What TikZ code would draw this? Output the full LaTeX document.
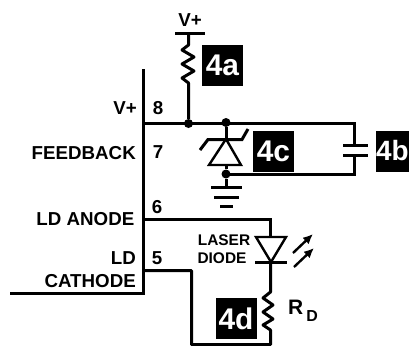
\documentclass[tikz,border=0pt]{standalone}
\usepackage{fontspec}
\setmainfont{Liberation Sans}
\usetikzlibrary{arrows.meta}
\tikzset{
    wire/.style={draw=black,line width=3bp},
    tag/.style={fill=black,text=white,font=\fontsize{30}{30}\selectfont\bfseries,minimum size=41bp,inner sep=0pt},
    lbl/.style={font=\fontsize{18.8}{19}\selectfont\bfseries,inner sep=0pt},
    dio/.style={font=\fontsize{15.5}{16}\selectfont\bfseries,inner sep=0pt},
    dot/.style={circle,fill=black,inner sep=0pt,minimum size=9bp},
    beam/.style={draw=black,line width=2.4bp,-{Latex[length=10bp,width=9bp]}}
}
\begin{document}
\begin{tikzpicture}[x=1bp,y=-1bp]
    \useasboundingbox (0,0) rectangle (409,346);

    % bus and pins
    \coordinate (bustop) at (143.5,69);
    \coordinate (buscorner) at (143.5,293.5);
    \coordinate (busend) at (10,293.5);
    \draw[wire] (bustop) -- (buscorner) -- (busend);

    \node[dot] (jr) at (188.5,123.5) {};
    \node[dot] (jz) at (226,122.5) {};
    \node[dot] (jg) at (226,174) {};
    \coordinate (p8) at (143.5,123.5);
    \coordinate (captopcorner) at (354.5,123.5);
    \coordinate (capbotcorner) at (354.5,174.5);
    \draw[wire] (p8) -- (captopcorner) -- (354.5,145);
    \draw[wire] (jg.center |- capbotcorner) -- (capbotcorner) -- (354.5,155);
    \draw[wire] (343,145.5) -- (368,145.5);
    \draw[wire] (343,155.5) -- (368,155.5);

    % supply resistor
    \draw[wire] (175,33.5) -- (205,33.5);
    \draw[wire,line join=round] (188.5,33.5) -- (188.5,45) -- (182,50) -- (194,57) -- (182,64) -- (194,71) -- (182,78) -- (188.5,83) -- (jr);

    % zener
    \draw[wire] (jz) -- (226,139);
    \draw[wire,line width=2.4bp,line join=miter] (226,139) -- (241,165) -- (209,165) -- cycle;
    \draw[wire] (200,150) -- (208,139.5) -- (242,139.5) -- (248,129);
    \draw[wire] (226,165) -- (jg);
    \draw[wire] (jg) -- (226,187.5);
    \draw[wire] (211,187.5) -- (242,187.5);
    \draw[wire] (214,197.5) -- (239,197.5);
    \draw[wire] (220,206.5) -- (233,206.5);

    % laser diode
    \coordinate (p6) at (143.5,219.5);
    \coordinate (p5) at (143.5,270.5);
    \draw[wire] (p6) -- (270.5,219.5) -- (270.5,237);
    \draw[wire,line width=2.4bp,line join=miter] (256,237) -- (286,237) -- (271,262) -- cycle;
    \draw[wire] (255,262.5) -- (287,262.5);
    \draw[wire,line join=round] (270.5,262) -- (270.5,292) -- (263,298) -- (273,305) -- (263,312) -- (273,319) -- (263,325) -- (270.5,330) -- (270.5,344.5) -- (191.5,344.5) -- (191.5,270.5) -- (p5);
    \draw[beam] (293,253) -- (313,234);
    \draw[beam] (294,267) -- (314,248);

    % tags
    \node[tag,minimum width=33bp,minimum height=41bp,font=\fontsize{28}{28}\selectfont\bfseries] (tagb) at (392.5,151) {4b};
    \node[tag] (taga) at (222.5,65) {4a};
    \node[tag] (tagc) at (273.5,151) {4c};
    \node[tag] (tagd) at (236,318.5) {4d};

    % texts
    \node[lbl] (vtop) at (190,20) {V+};
    \node[lbl,anchor=east] (vpin) at (137,108) {V+};
    \node[lbl,anchor=east] (fb) at (136,153) {FEEDBACK};
    \node[lbl,anchor=east] (ldan) at (134.5,219) {LD ANODE};
    \node[lbl,anchor=east] (ld) at (136,258) {LD};
    \node[lbl,anchor=east] (cath) at (136,281) {CATHODE};
    \node[lbl] (n8) at (158,108) {8};
    \node[lbl] (n7) at (158,152) {7};
    \node[lbl] (n6) at (157,207) {6};
    \node[lbl] (n5) at (157,258) {5};
    \node[dio] (las) at (224,240) {LASER};
    \node[dio] (diod) at (222,258) {DIODE};
    \node[lbl,font=\fontsize{21}{21}\selectfont\bfseries,anchor=west] (rd) at (288,311) {R\kern3pt\raisebox{-7pt}{\fontsize{16}{16}\selectfont D}};
\end{tikzpicture}
\end{document}
